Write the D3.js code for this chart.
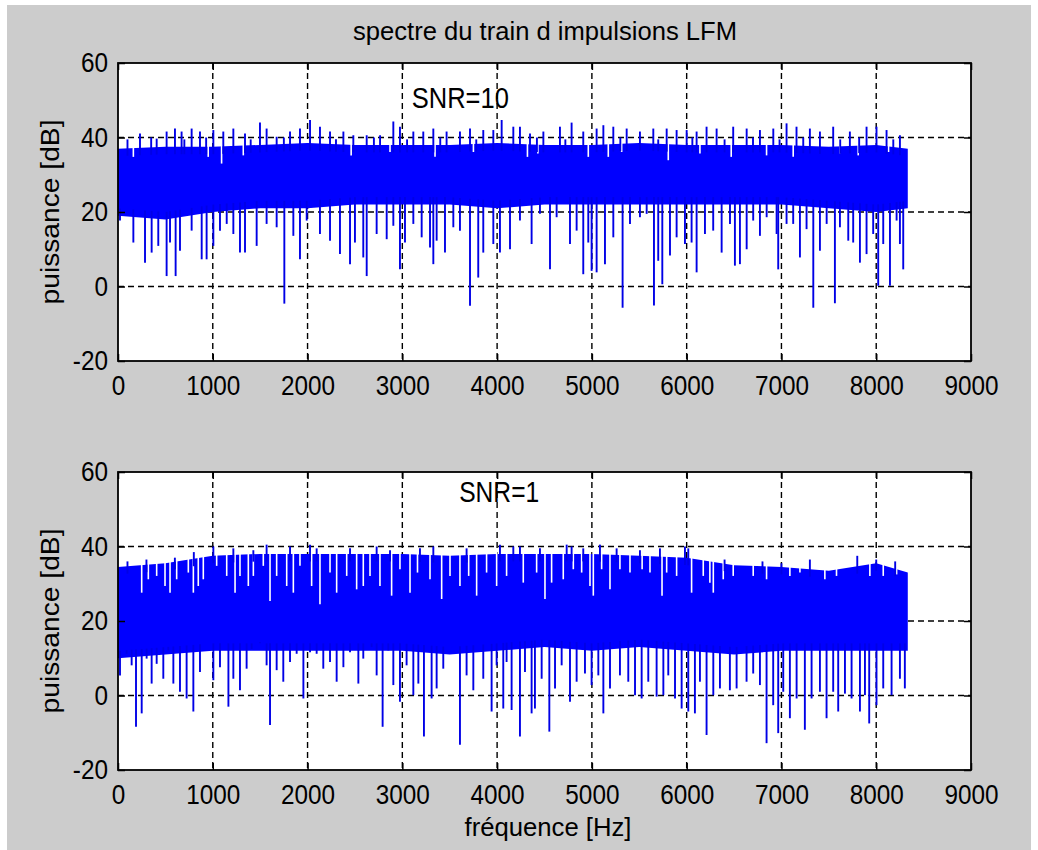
<!DOCTYPE html>
<html>
<head>
<meta charset="utf-8">
<script src="https://cdn.jsdelivr.net/npm/d3@7"></script>
<style>
  body { margin: 0; background: #fff; }
  text { font-family: "Liberation Sans", Arial, sans-serif; fill: #000; }
</style>
</head>
<body>
<svg id="fig"></svg>
<script>
// frequency ticks / power ticks
let xTicks = [0, 1000, 2000, 3000, 4000, 5000, 6000, 7000, 8000, 9000];
let yTicks = [-20, 0, 20, 40, 60];

// dense core of the spectrum (where the trace fills solid), read every 500 Hz
let coreFreq = [0, 500, 1000, 1500, 2000, 2500, 3000, 3500, 4000, 4500, 5000, 5500, 6000, 6500, 7000, 7500, 8000, 8333];

// SNR = 10
let hiSnr10 = [37, 37.5, 37.5, 38, 38.5, 38, 38, 38, 38.5, 38, 38, 38.5, 38, 38, 38, 37.5, 38, 37];
let loSnr10 = [19, 18, 20, 21, 21, 22, 22, 22, 21, 22, 22, 22, 22, 22, 22, 21, 20, 21];
let upSnr10 = [[100,39.5],[232,41.1],[350,40],[408,39.7],[513,41.6],[601,42.4],[671,41.6],[700,39.5],[777,42.4],[865,41.6],[930,40],
  [1006,42],[1111,41.6],[1217,42.4],[1340,41.1],[1400,39.5],[1498,44],[1568,42.4],[1674,40.2],[1750,40],[1815,41.6],[1920,42.4],
  [2026,44.7],[2131,42.9],[2237,41.6],[2300,39.5],[2378,41.6],[2483,40.6],[2624,40.6],[2700,40],[2765,40.6],[2905,44.3],[2975,42.9],
  [3050,39.5],[3116,41.6],[3221,41.6],[3327,42.4],[3400,40],[3467,41.6],[3608,41.6],[3714,42.4],[3780,39.5],[3854,42],[3960,42],
  [4048,44.7],[4171,42.9],[4241,42.9],[4347,41.1],[4420,40],[4488,41.6],[4663,42.9],[4720,39.5],[4786,44],[4909,41.6],[5050,42.4],
  [5121,43.3],[5226,42.9],[5300,40],[5367,42.4],[5507,41.6],[5648,42.4],[5700,39.5],[5789,42.4],[5894,42],[6000,42],[6060,40],
  [6105,41.6],[6210,42.9],[6316,42.4],[6400,39.5],[6491,42.9],[6633,42.4],[6700,40],[6773,42],[6914,42.4],[6980,39.5],[7054,43.8],
  [7159,42.9],[7230,40],[7300,42.4],[7406,41.6],[7546,42.9],[7620,39.5],[7722,41.6],[7820,40],[7898,42.9],[8003,42.9],[8109,42],
  [8180,39.5],[8250,40.6]];
let downSnr10 = [[21,17.7],[162,11.8],[285,6.4],[355,9.1],[425,10.9],[513,2.8],[549,11.8],[608,2.8],[654,9.6],[777,15],[883,7.3],
  [935,7.3],[1006,10.9],[1076,15],[1147,16.8],[1217,14.1],[1287,9.1],[1340,9.1],[1463,10.9],[1568,16.8],[1674,15.9],[1755,-4.6],
  [1850,13.6],[1920,7.3],[1991,17.7],[2131,14.1],[2237,12.3],[2342,8.7],[2448,6],[2500,11.8],[2588,7.8],[2624,2.8],[2729,14.1],
  [2835,12.7],[2905,16.3],[2975,4.6],[3028,11.8],[3116,16.8],[3204,13.2],[3292,10.5],[3327,6],[3362,12.3],[3450,9.1],[3538,15.9],
  [3608,15],[3714,-5.2],[3801,2.4],[3854,9.1],[3960,11.4],[4030,9.1],[4136,10],[4241,17.7],[4364,11.4],[4452,19.5],[4558,4.6],
  [4628,18.6],[4769,11.4],[4839,15],[4909,3.3],[4962,11.8],[4997,4.2],[5050,3.8],[5138,6],[5226,13.2],[5324,-5.7],[5402,16.8],
  [5507,18.6],[5578,19.5],[5655,-5.1],[5700,6.9],[5743,0.6],[5824,8.3],[5894,13.2],[5982,11.4],[6052,11.8],[6105,3.8],[6193,14.1],
  [6280,15],[6369,9.1],[6457,16.8],[6509,5.6],[6562,6],[6633,10],[6702,17.7],[6773,13.6],[6844,18.6],[6949,14.1],[6966,4.6],
  [7054,16.8],[7124,16.8],[7195,7.8],[7265,15.4],[7336,-5.7],[7406,9.6],[7477,16.8],[7564,-4.5],[7617,15.9],[7705,12.3],
  [7757,11.8],[7828,6.4],[7898,8.7],[7968,14.1],[8021,0.2],[8074,11.4],[8145,0.2],[8215,17.7],[8250,11.4],[8285,4.6]];
let notchSnr10 = [[162,34.8],[952,34.8],[1093,33],[1322,35.2],[2460,35.2],[2870,36.1],[3345,34.8],[3750,36.1],[4320,34.8],
  [4430,35.7],[4962,34.8],[5173,34.8],[5314,36.1],[5806,33.9],[6140,35.7],[6470,34.8],[6843,35.2],[7124,34.8],[7617,35.7],
  [7810,35.2],[8130,36.1]];

// SNR = 1
let hiSnr1 = [34.5, 35.5, 37.5, 38, 38, 38, 38, 37.5, 38, 38, 38, 37.5, 37, 35, 34.5, 33.5, 35.5, 33];
let loSnr1 = [10, 11, 12, 12, 12, 12, 12, 11, 12, 13, 12, 13, 12, 11, 12, 12, 12, 12];
let upSnr1 = [[100,36],[300,36.5],[600,37],[800,38.5],[1006,40],[1217,39.5],[1428,39],[1568,40.5],[1815,40],[2026,40.5],[2096,39.5],
  [2448,39.5],[2729,40],[2870,39],[3186,39.5],[3327,40],[3678,39.5],[4030,40.5],[4171,40],[4241,40],[4452,39.5],[4734,40.5],
  [4786,40],[4909,39.5],[5085,40.5],[5261,39.5],[5507,39],[5718,39.5],[5982,40],[6017,39.5],[6400,36.5],[6800,36],[7000,35.5],
  [7300,36.5],[7800,37.5],[8000,36.5],[8200,36]];
let downSnr1 = [[21,5.4],[91,11.2],[144,8.1],[190,-8.4],[250,-4.8],[302,9.9],[355,3.2],[408,8.5],[478,4.5],[531,12.1],[584,3.2],
  [654,1],[724,-0.8],[795,-4.3],[865,6.3],[953,13.9],[1006,4.1],[1076,7.6],[1165,-3],[1217,4.5],[1287,1.4],[1357,7.2],[1410,12.5],
  [1498,14.3],[1568,8.1],[1604,-7.9],[1674,6.8],[1744,3.7],[1815,9],[1885,11.2],[1956,-0.8],[2026,11.6],[2096,11.2],[2166,7.2],
  [2237,9],[2307,3.7],[2378,7.6],[2448,11.6],[2536,3.2],[2588,9.9],[2676,13],[2729,5.4],[2792,-8.4],[2852,12.1],[2905,2.8],
  [2975,-1.7],[3045,8.1],[3116,0.1],[3169,3.2],[3228,-11],[3309,-0.8],[3362,1.9],[3432,7.2],[3520,13],[3608,-13.2],[3678,5.4],
  [3749,1.4],[3854,4.5],[3942,-4.3],[3995,8.1],[4065,-3.5],[4100,9],[4153,-3.9],[4241,-11],[4294,6.3],[4364,-4.8],[4399,-3.5],
  [4470,4.5],[4551,-9.7],[4611,1.9],[4681,8.1],[4769,-1.7],[4839,3.7],[4927,5.9],[4997,2.8],[5068,5.4],[5121,-4.8],[5191,1.9],
  [5296,5.4],[5384,3.7],[5455,0.1],[5525,-0.8],[5595,3.7],[5683,-0.3],[5754,0.1],[5806,5.4],[5877,-0.8],[5947,-3.5],[6017,-4.3],
  [6087,-4.8],[6140,3.7],[6210,-10.6],[6281,0.1],[6351,1.9],[6456,1.4],[6527,1.9],[6632,3.7],[6702,5.9],[6773,2.8],[6843,-12.8],
  [6913,-2.6],[6966,-10.1],[7019,1],[7089,-6.1],[7160,-0.8],[7247,-9.2],[7318,-0.8],[7406,1],[7476,-6.1],[7546,1],[7599,-4.3],
  [7670,0.5],[7740,-0.8],[7828,-4.3],[7881,0.1],[7926,-7.5],[8003,-2.6],[8074,1.9],[8162,0.1],[8250,4.5],[8302,1.9]];
let notchSnr1 = [[250,27.6],[320,31.2],[408,32.1],[496,29.4],[549,27.6],[619,31.2],[742,33],[795,27.6],[847,29.4],[900,31.2],
  [1041,34.8],[1147,32.1],[1235,27.6],[1287,32.1],[1375,29.4],[1428,32.1],[1533,34.8],[1604,25.4],[1674,32.1],[1780,29.4],
  [1850,27.6],[1920,34.8],[2043,29.4],[2131,24.5],[2237,33],[2307,27.6],[2413,32.1],[2518,28.5],[2588,29.4],[2659,32.1],
  [2764,29.4],[2887,26.8],[2975,33.9],[3081,27.6],[3160,33],[3292,31.2],[3415,25.9],[3503,32.1],[3608,29.4],[3700,32.1],
  [3784,26.8],[3889,33],[3995,29.4],[4100,32.1],[4276,30.3],[4417,33],[4505,25.9],[4575,30.3],[4698,31.2],[4804,33.9],
  [4892,33],[4980,29.4],[5015,26.8],[5103,33.9],[5191,28.5],[5296,33.9],[5402,33],[5530,33.9],[5613,33],[5740,26.8],[5789,33],
  [5894,32.1],[6052,27.6],[6175,32.1],[6245,30.3],[6281,27.6],[6386,31.2],[6491,32.1],[6702,32.1],[6843,31.2],[7089,32.1],
  [7195,33],[7458,31.2],[7581,32.1],[7933,32.1],[8074,32.1],[8215,32.5]];

let panels = [
  {hi: hiSnr10, lo: loSnr10, up: upSnr10, down: downSnr10, notch: notchSnr10, label: "SNR=10", labelAt: [3100, 48], labelW: 97, top: 63},
  {hi: hiSnr1, lo: loSnr1, up: upSnr1, down: downSnr1, notch: notchSnr1, label: "SNR=1", labelAt: [3600, 52], labelW: 80, top: 472}
];

/***************************/

let W = 1038, H = 850;
let plotLeft = 118, plotW = 853, plotH = 298;
let blue = "#0000ff";
let spikeBlue = "#0000e6";

let svg = d3.select("#fig").attr("width", W).attr("height", H);

svg.append("rect").attr("x", 7).attr("y", 5).attr("width", 1024).attr("height", H - 5).attr("fill", "#cccccc");

let xScale = d3.scaleLinear().domain([0, 9000]).range([0, plotW]);

panels.forEach(function(p) {
  let yScale = d3.scaleLinear().domain([-20, 60]).range([plotH, 0]);
  let hiAt = d3.scaleLinear().domain(coreFreq).range(p.hi);
  let loAt = d3.scaleLinear().domain(coreFreq).range(p.lo);

  let g = svg.append("g").attr("transform", `translate(${plotLeft}, ${p.top})`);

  g.append("rect").attr("width", plotW).attr("height", plotH).attr("fill", "#fff");

  // dashed grid under the data
  g.selectAll(".gx").data(xTicks.slice(1, -1)).enter().append("line")
    .attr("x1", d => xScale(d)).attr("x2", d => xScale(d))
    .attr("y1", 0).attr("y2", plotH)
    .attr("stroke", "#000").attr("stroke-width", 1.4).attr("stroke-dasharray", "6,4");
  g.selectAll(".gy").data(yTicks.slice(1, -1)).enter().append("line")
    .attr("x1", 0).attr("x2", plotW)
    .attr("y1", d => yScale(d)).attr("y2", d => yScale(d))
    .attr("stroke", "#000").attr("stroke-width", 1.4).attr("stroke-dasharray", "6,4");

  // solid core of the trace
  let area = d3.area()
    .x((d, i) => xScale(coreFreq[i]))
    .y0((d, i) => yScale(p.lo[i]))
    .y1((d, i) => yScale(p.hi[i]));
  g.append("path").datum(p.hi).attr("d", area).attr("fill", blue);

  // spikes below the core
  g.selectAll(".dn").data(p.down).enter().append("line")
    .attr("x1", d => xScale(d[0])).attr("x2", d => xScale(d[0]))
    .attr("y1", d => yScale(d[1])).attr("y2", d => yScale(loAt(d[0]) + 2))
    .attr("stroke", spikeBlue).attr("stroke-width", 1.9);

  // gaps at the top of the core
  g.selectAll(".nt").data(p.notch).enter().append("line")
    .attr("x1", d => xScale(d[0])).attr("x2", d => xScale(d[0]))
    .attr("y1", d => yScale(d[1])).attr("y2", d => yScale(hiAt(d[0]) + 0.6))
    .attr("stroke", "#fff").attr("stroke-width", 1.6);

  // spikes above the core
  g.selectAll(".up").data(p.up).enter().append("line")
    .attr("x1", d => xScale(d[0])).attr("x2", d => xScale(d[0]))
    .attr("y1", d => yScale(d[1])).attr("y2", d => yScale(hiAt(d[0]) - 2))
    .attr("stroke", spikeBlue).attr("stroke-width", 1.9);

  g.append("text")
    .attr("x", xScale(p.labelAt[0])).attr("y", yScale(p.labelAt[1]))
    .attr("font-size", 29).attr("textLength", p.labelW).attr("lengthAdjust", "spacingAndGlyphs")
    .text(p.label);

  // axes, ticks pointing inward like matlab
  let fmt = d => String(d);
  let xAxis = d3.axisBottom(xScale).tickValues(xTicks).tickFormat(fmt).tickSize(-7).tickSizeOuter(0).tickPadding(15);
  let yAxis = d3.axisLeft(yScale).tickValues(yTicks).tickFormat(fmt).tickSize(-7).tickSizeOuter(0).tickPadding(10);

  let gx = g.append("g").attr("transform", `translate(0, ${plotH})`).call(xAxis);
  let gy = g.append("g").call(yAxis);
  g.append("g").call(d3.axisTop(xScale).tickValues(xTicks).tickSize(-7).tickSizeOuter(0).tickFormat(""));
  g.append("g").attr("transform", `translate(${plotW}, 0)`)
    .call(d3.axisRight(yScale).tickValues(yTicks).tickSize(-7).tickSizeOuter(0).tickFormat(""));

  g.selectAll(".domain").remove();
  g.selectAll(".tick line").attr("stroke", "#000").attr("stroke-width", 1.5);

  [gx, gy].forEach(function(ax) {
    ax.attr("font-family", null).attr("font-size", 27);
    ax.selectAll("text").attr("fill", "#000").each(function() {
      let n = this.getComputedTextLength();
      d3.select(this).attr("textLength", n * 0.9).attr("lengthAdjust", "spacingAndGlyphs");
    });
  });

  g.append("rect").attr("width", plotW).attr("height", plotH)
    .attr("fill", "none").attr("stroke", "#000").attr("stroke-width", 1.8);

  g.append("text")
    .attr("transform", `translate(${59 - plotLeft}, ${plotH / 2}) rotate(-90)`)
    .attr("text-anchor", "middle").attr("font-size", 26)
    .attr("textLength", 185).attr("lengthAdjust", "spacingAndGlyphs")
    .text("puissance [dB]");
});

svg.append("text")
  .attr("x", 545).attr("y", 40).attr("text-anchor", "middle").attr("font-size", 26)
  .attr("textLength", 384).attr("lengthAdjust", "spacingAndGlyphs")
  .text("spectre du train d impulsions LFM");

svg.append("text")
  .attr("x", 548).attr("y", 836).attr("text-anchor", "middle").attr("font-size", 25)
  .attr("textLength", 167).attr("lengthAdjust", "spacingAndGlyphs")
  .text("fréquence [Hz]");
</script>
</body>
</html>
